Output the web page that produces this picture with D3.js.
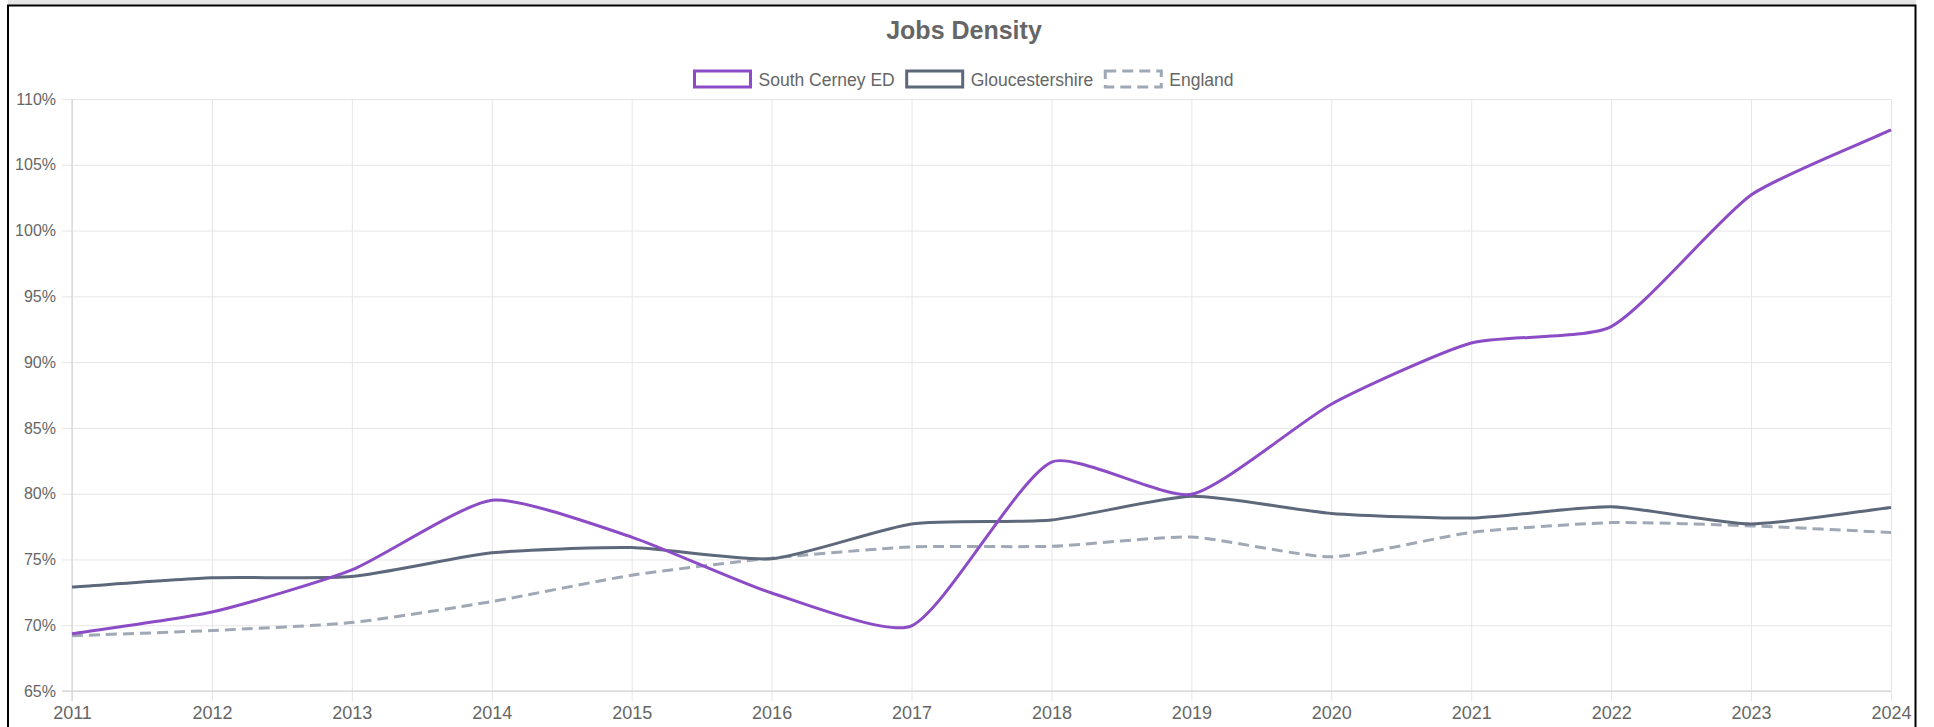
<!DOCTYPE html>
<html>
<head>
<meta charset="utf-8">
<script src="https://cdn.jsdelivr.net/npm/d3@7"></script>
<style>
  body { margin: 0; background: #fff; }
  svg { display: block; font-family: Arial, "Liberation Sans", Helvetica, sans-serif; }
</style>
</head>
<body>
<svg id="chart" width="1934" height="727"></svg>
<script>
// data
const years = [2011, 2012, 2013, 2014, 2015, 2016, 2017, 2018, 2019, 2020, 2021, 2022, 2023, 2024];
const southCerney = [69.35, 71.0, 74.2, 79.5, 76.7, 72.45, 69.95, 82.4, 79.95, 86.8, 91.45, 92.7, 102.7, 107.65];
const gloucestershire = [72.9, 73.6, 73.7, 75.5, 75.9, 75.05, 77.7, 78.0, 79.8, 78.5, 78.15, 79.0, 77.7, 78.95];
const england = [69.2, 69.6, 70.2, 71.8, 73.8, 75.1, 75.95, 76.0, 76.7, 75.2, 77.05, 77.8, 77.55, 77.05];
const yTicks = [65, 70, 75, 80, 85, 90, 95, 100, 105, 110];

const seriesList = [
  { name: 'South Cerney ED', values: southCerney, color: '#8c4cc6', dash: null },
  { name: 'Gloucestershire', values: gloucestershire, color: '#5d687b', dash: null },
  { name: 'England', values: england, color: '#a0a8b6', dash: '11,6' }
];

const W = 1934, H = 727;
const plot = { left: 72, right: 1891, top: 99, bottom: 691 };
const textColor = '#666';
const font = 'Arial, "Liberation Sans", sans-serif';

const svg = d3.select('#chart');

const x = d3.scaleLinear().domain([2011, 2024]).range([plot.left, plot.right]);
const y = d3.scaleLinear().domain([65, 110]).range([plot.bottom, plot.top]);

// Chart.js style spline
function chartSpline(context) {
  let pts;
  return {
    areaStart() {}, areaEnd() {},
    lineStart() { pts = []; },
    point(px, py) { pts.push([+px, +py]); },
    lineEnd() {
      const n = pts.length, t = 0.2;
      const clampX = v => Math.max(plot.left, Math.min(plot.right, v));
      const clampY = v => Math.max(plot.top, Math.min(plot.bottom, v));
      const cps = pts.map((p, i) => {
        const prev = pts[Math.max(i - 1, 0)], next = pts[Math.min(i + 1, n - 1)];
        const d01 = Math.hypot(p[0] - prev[0], p[1] - prev[1]);
        const d12 = Math.hypot(next[0] - p[0], next[1] - p[1]);
        let s01 = d01 / (d01 + d12), s12 = d12 / (d01 + d12);
        if (isNaN(s01)) s01 = 0;
        if (isNaN(s12)) s12 = 0;
        const fa = t * s01, fb = t * s12;
        return {
          inX: clampX(p[0] - fa * (next[0] - prev[0])), inY: clampY(p[1] - fa * (next[1] - prev[1])),
          outX: clampX(p[0] + fb * (next[0] - prev[0])), outY: clampY(p[1] + fb * (next[1] - prev[1]))
        };
      });
      context.moveTo(pts[0][0], pts[0][1]);
      for (let i = 1; i < n; i++) {
        context.bezierCurveTo(cps[i - 1].outX, cps[i - 1].outY, cps[i].inX, cps[i].inY, pts[i][0], pts[i][1]);
      }
    }
  };
}

// y grid + labels
const yAxis = d3.axisLeft(y).tickValues(yTicks).tickSize(0).tickFormat(d => d + '%');
const gy = svg.append('g').attr('transform', `translate(${plot.left},0)`).call(yAxis);
gy.select('.domain').remove();
gy.selectAll('.tick line').attr('x1', -10).attr('x2', plot.right - plot.left)
  .attr('stroke', '#e6e6e6').attr('stroke-width', 1);
gy.selectAll('.tick text').attr('x', -16).attr('fill', textColor)
  .style('font-size', '16px').style('font-family', font);

// x grid + labels
const xAxis = d3.axisBottom(x).tickValues(years).tickFormat(d3.format('d')).tickSize(0);
const gx = svg.append('g').attr('transform', `translate(0,${plot.bottom})`).call(xAxis);
gx.select('.domain').remove();
gx.selectAll('.tick line').attr('y1', -(plot.bottom - plot.top)).attr('y2', 10)
  .attr('stroke', '#e6e6e6').attr('stroke-width', 1);
gx.selectAll('.tick text').attr('y', 26).attr('dy', '0.1em').attr('fill', textColor)
  .style('font-size', '18px').style('font-family', font);

// axis lines
svg.append('line').attr('x1', plot.left).attr('x2', plot.left)
  .attr('y1', plot.top).attr('y2', plot.bottom + 10).attr('stroke', '#cfcfcf');
svg.append('line').attr('x1', plot.left - 10).attr('x2', plot.right)
  .attr('y1', plot.bottom).attr('y2', plot.bottom).attr('stroke', '#cfcfcf');

// series lines, last dataset drawn first
const line = d3.line().x((d, i) => x(years[i])).y(d => y(d)).curve(chartSpline);
svg.append('g').selectAll('path')
  .data(seriesList.slice().reverse())
  .join('path')
  .attr('d', d => line(d.values))
  .attr('fill', 'none')
  .attr('stroke', d => d.color)
  .attr('stroke-width', 3)
  .attr('stroke-dasharray', d => d.dash);

// title
svg.append('text').attr('x', 964).attr('y', 39).attr('text-anchor', 'middle')
  .attr('fill', textColor).style('font-size', '25px').style('font-weight', 'bold')
  .style('font-family', font).text('Jobs Density');

// legend
const legend = svg.append('g');
const boxW = 56, boxH = 16, gapBT = 8, gapItem = 12;
const items = legend.selectAll('g').data(seriesList).join('g');
items.append('rect').attr('width', boxW).attr('height', boxH).attr('y', 71)
  .attr('fill', '#fff').attr('stroke', d => d.color).attr('stroke-width', 3)
  .attr('stroke-dasharray', d => d.dash);
items.append('text').attr('x', boxW + gapBT).attr('y', 85.5)
  .attr('fill', textColor).style('font-size', '17.5px').style('font-family', font)
  .text(d => d.name);
let cx = 0;
const offsets = [];
items.each(function () {
  const tw = d3.select(this).select('text').node().getComputedTextLength();
  offsets.push(cx);
  cx += boxW + gapBT + tw + gapItem;
});
const totalW = cx - gapItem;
const start = 964 - totalW / 2;
items.attr('transform', (d, i) => `translate(${start + offsets[i]},0)`);

// frame
svg.append('rect').attr('x', 8).attr('y', 0).attr('width', 1908).attr('height', 5).attr('fill', '#e5e5e5');
svg.append('path').attr('d', `M8,${H} L8,5.5 L1915.5,5.5 L1915.5,${H}`)
  .attr('fill', 'none').attr('stroke', '#000').attr('stroke-width', 2);
svg.append('rect').attr('x', 1917).attr('y', 0).attr('width', W - 1917).attr('height', H).attr('fill', '#fff');
</script>
</body>
</html>
